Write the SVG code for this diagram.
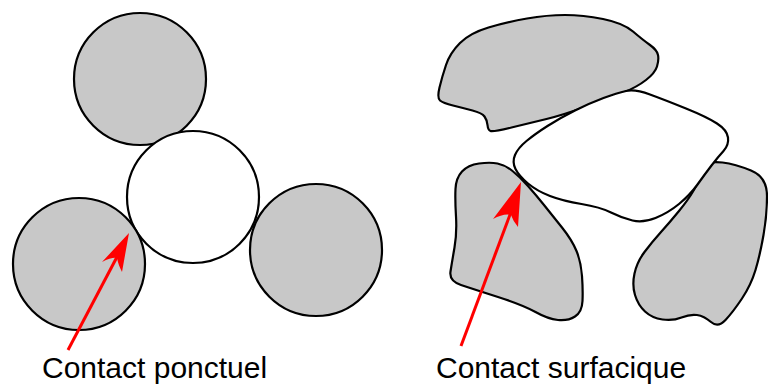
<svg xmlns="http://www.w3.org/2000/svg" width="768" height="385" viewBox="0 0 768 385">
<style>
.g{fill:#c8c8c8;stroke:#000;stroke-width:2.2;stroke-linejoin:round}
.w{fill:#fff;stroke:#000;stroke-width:2.2;stroke-linejoin:round}
.arr{stroke:#ff0000;stroke-width:3;fill:none}
.head{fill:#ff0000;stroke:none}
.lbl{font-family:"Liberation Sans",Arial,sans-serif;font-size:30px;fill:#000}
</style>
<rect width="768" height="385" fill="#fff"/>
<g id="circle-top"><circle class="g" cx="140" cy="79" r="66"/></g>
<g id="circle-center"><circle class="w" cx="193" cy="197" r="66"/></g>
<g id="circle-left"><circle class="g" cx="79" cy="264" r="66"/></g>
<g id="circle-right"><circle class="g" cx="316" cy="250" r="66"/></g>
<g id="grain-top"><path class="g" d="M 440,100.5 Q 437,98 439.5,87.5 Q 442,77 446,65 Q 450,53 460,43 Q 470,33 488.5,27.5 Q 507,22 527,18.5 Q 547,15 565,15 Q 583,15 603,19 Q 623,23 633,31.5 Q 643,40 650,45 Q 657,50 658,55 Q 659,60 657,66.5 Q 655,73 646,80 Q 637,87 623.5,92.5 Q 610,98 586.5,106.5 Q 563,115 546.5,119 Q 530,123 511.5,127.5 Q 493,132 490.5,131 Q 488,130 487.5,125 Q 487,120 484.5,116.5 Q 482,113 472.5,110.5 Q 463,108 453,105.5 Q 443,103 440,100.5 Z"/></g>
<g id="grain-left"><path class="g" d="M 497.5,163.5 Q 490,162 479,163.5 Q 468,165 462,171.5 Q 456,178 455.5,189 Q 455,200 456,216.5 Q 457,233 454.5,247.5 Q 452,262 450.5,271.5 Q 449,281 461,285 Q 473,289 498,297 Q 523,305 535.5,312 Q 548,319 558,320 Q 568,321 575,316.5 Q 582,312 582.5,301 Q 583,290 582,276 Q 581,262 576.5,251 Q 572,240 562,227.5 Q 552,215 544,205 Q 536,195 528,186 Q 520,177 512.5,171 Q 505,165 497.5,163.5 Z"/></g>
<g id="grain-right"><path class="g" d="M 707.5,164.5 Q 710,161 722.5,162.5 Q 735,164 751,170.5 Q 767,177 767,196 Q 767,215 763.5,235 Q 760,255 755.5,270 Q 751,285 742,298.5 Q 733,312 725.5,320 Q 718,328 711,322 Q 704,316 697,315 Q 690,314 681.5,317.5 Q 673,321 662.5,319.5 Q 652,318 645,311.5 Q 638,305 635,295 Q 632,285 634.5,273.5 Q 637,262 644.5,252 Q 652,242 661,232 Q 670,222 679,211 Q 688,200 693,191.5 Q 698,183 701.5,175.5 Q 705,168 707.5,164.5 Z"/></g>
<g id="grain-center"><path class="w" d="M 626,91 Q 635,89 650,94.5 Q 665,100 686,108.5 Q 707,117 717,123.5 Q 727,130 728,137.5 Q 729,145 723.5,151 Q 718,157 711.5,165.5 Q 705,174 697.5,184.5 Q 690,195 679,204 Q 668,213 655.5,218 Q 643,223 632.5,220.5 Q 622,218 611,212.5 Q 600,207 581.5,204 Q 563,201 550,196 Q 537,191 528,183.5 Q 519,176 515.5,169 Q 512,162 515,155 Q 518,148 526.5,141 Q 535,134 547.5,126 Q 560,118 575,110.5 Q 590,103 603.5,98 Q 617,93 626,91 Z"/></g>
<g id="connectors">
<line class="arr" x1="68" y1="350" x2="118" y2="255"/>
<path class="head" d="M 129,233 L 102,262 Q 112,257 117,258 Q 118,264 122,272 Z"/>
<line class="arr" x1="461" y1="346" x2="511" y2="212"/>
<path class="head" d="M 521,182 L 493,219 Q 504,213 511,215 Q 513,221 518,227 Z"/>
</g>
<g id="label-ponctuel"><text class="lbl" x="42" y="378">Contact ponctuel</text></g>
<g id="label-surfacique"><text class="lbl" x="436" y="378">Contact surfacique</text></g>
</svg>
